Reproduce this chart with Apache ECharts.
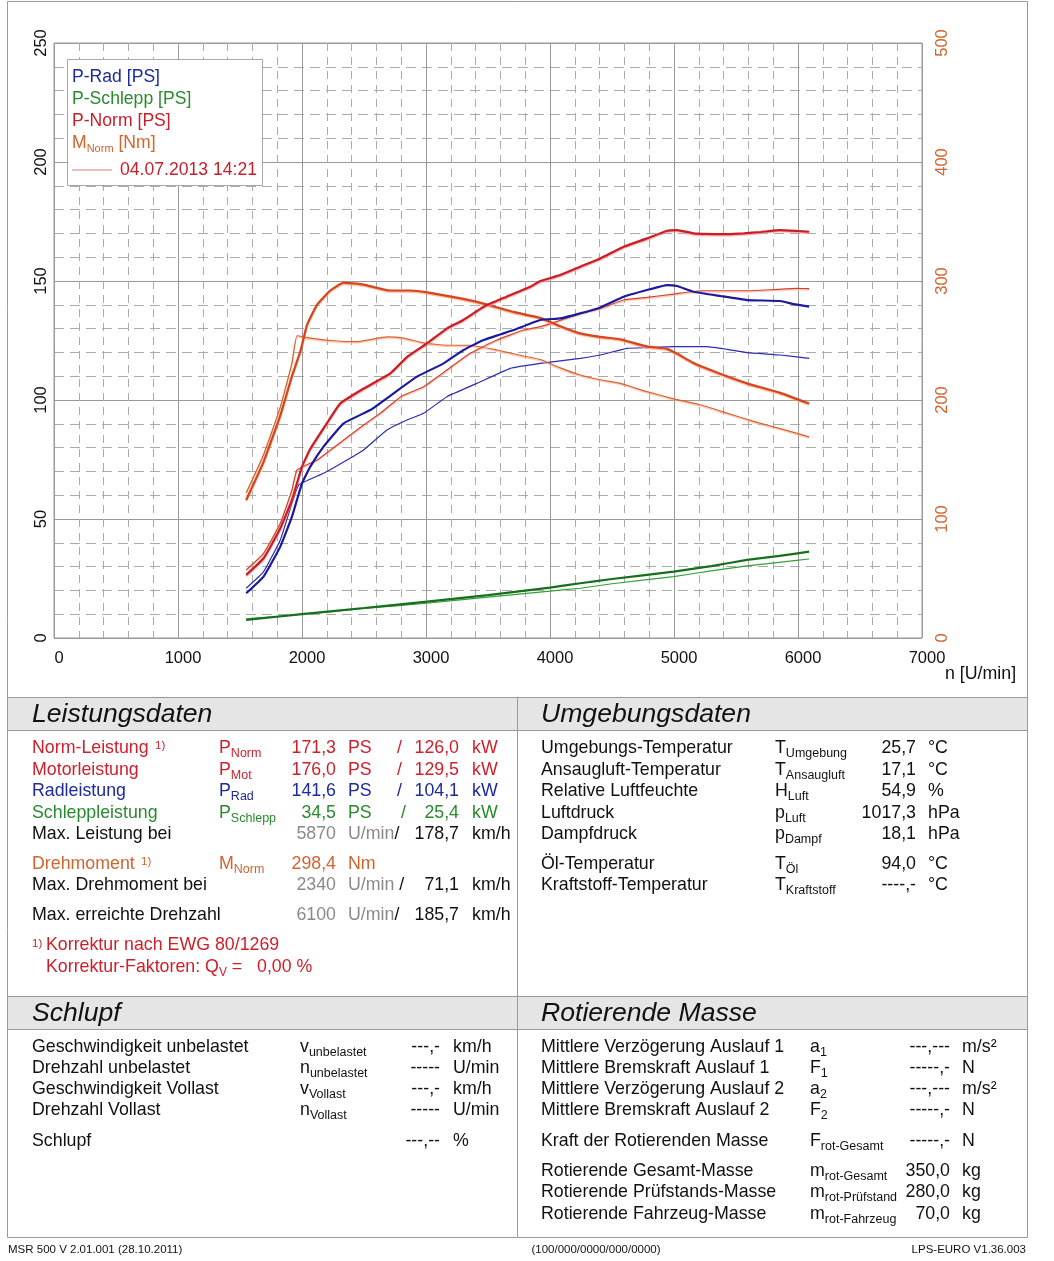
<!DOCTYPE html>
<html><head><meta charset="utf-8">
<script src="https://cdn.jsdelivr.net/npm/echarts@6/dist/echarts.min.js"></script>
<style>html,body{margin:0;padding:0;background:#fff}#c{width:1054px;height:1261px}</style>
</head><body><div id="c"></div>
<script>
// ---- data (rpm, value) ----
const xTicks = [0,1000,2000,3000,4000,5000,6000,7000];
const pNormThick = [[1550,26.5],[1690,33.5],[1825,46.1],[1919,58],[2000,72],[2067,79.5],[2200,90.2],[2309,98.6],[2500,104.9],[2712,111.2],[2850,118.2],[3008,123.8],[3170,130.1],[3300,133.6],[3465,139.2],[3650,143.4],[3840,147.6],[3922,150],[4083,152.5],[4244,156],[4406,159.5],[4594,164.4],[4782,167.9],[4944,171.1],[5024,171.4],[5158,170],[5427,169.7],[5561,170],[5700,170.6],[5857,171.4],[6000,171],[6090,170.7]];
const pNormThin = [[1550,28.6],[1690,35.6],[1825,48.2],[1919,62.2],[1960,70.6],[2121,74.8],[2336,83.2],[2497,89.5],[2631,94.4],[2800,101.5],[2981,105.6],[3169,112.6],[3357,119.6],[3573,125.2],[3787,129.4],[3922,130.8],[4100,133.8],[4244,136.4],[4406,138.5],[4594,142],[4782,143.1],[4997,144.5],[5212,145.9],[5589,145.9],[5800,146.4],[5992,146.9],[6090,146.8]];
const pRadThick = [[1550,18.8],[1690,25.8],[1825,38.4],[1919,51],[2000,65],[2067,72],[2174,80.4],[2336,90.2],[2551,95.8],[2739,102.8],[2927,109.8],[3142,115.4],[3303,121],[3465,125.2],[3706,129.4],[3922,133.6],[4083,134.3],[4244,136.4],[4406,138.9],[4594,143.4],[4782,146.2],[4944,148.3],[5024,147.9],[5158,145.5],[5373,143.7],[5589,142],[5857,141.6],[5965,140.3],[6090,139.2]];
const pRadThin = [[1550,20.9],[1690,27.9],[1825,41.2],[1919,56.6],[1973,64.3],[2174,69.2],[2363,74.8],[2497,79],[2685,87.4],[2847,91.6],[2981,94.4],[3169,101.4],[3411,107],[3680,113.3],[3922,115.4],[4244,117.5],[4406,118.9],[4620,121.7],[4782,122],[4997,122.4],[5266,122.4],[5427,121.3],[5589,119.9],[5857,118.9],[6090,117.5]];
const pSchleppThick = [[1550,7.6],[2000,10],[2500,12.6],[3008,15.3],[3500,18],[4000,21.2],[4244,23],[4500,24.8],[4997,27.9],[5300,30.2],[5589,32.8],[5850,34.5],[6090,36.3]];
const pSchleppThin = [[1550,8],[2000,10],[2500,12.4],[3008,14.6],[3500,17.2],[4000,19.7],[4244,20.9],[4500,22.8],[4997,25.8],[5300,28.2],[5589,30.3],[5850,31.8],[6090,33.2]];
const mNormThick = [[1550,116],[1690,148],[1825,187],[1919,220],[1990,242],[2040,263],[2121,280],[2228,292],[2336,298.6],[2497,297],[2712,292],[2873,292],[3035,290],[3303,285],[3465,281],[3706,274],[3922,269],[4083,262],[4244,256],[4406,253],[4567,251],[4782,245],[4944,243],[5024,239],[5158,231],[5373,222],[5589,214],[5857,206],[6090,197]];
const mNormThin = [[1550,122],[1690,154],[1825,194],[1919,231],[1960,254],[2067,252],[2228,250],[2443,249],[2685,253],[2820,252],[2981,248],[3169,246],[3357,246],[3573,242],[3787,237],[3922,234],[4083,227],[4244,221],[4406,217],[4567,214],[4782,207],[4997,201],[5212,196],[5427,189],[5642,182],[5857,176],[6090,169]];

const legendItems = ['P-Rad [PS]','P-Schlepp [PS]','P-Norm [PS]','M|Norm| [Nm]'];
const runLabel = '04.07.2013 14:21';

// table texts
const leist = [
 ['Norm-Leistung','1)','P','Norm','171,3','PS','/','126,0','kW','#cf1f2a',748],
 ['Motorleistung','','P','Mot','176,0','PS','/','129,5','kW','#cf1f2a',770],
 ['Radleistung','','P','Rad','141,6','PS','/','104,1','kW','#1c2a9e',791],
 ['Schleppleistung','','P','Schlepp','34,5','PS','/','25,4','kW','#2a8a2e',813]
];
const leistMax = [
 ['Max. Leistung bei','5870','U/min','/','178,7','km/h',834],
 ['Max. Drehmoment bei','2340','U/min ','/','71,1','km/h',885],
 ['Max. erreichte Drehzahl','6100','U/min','/','185,7','km/h',915]
];
const umg = [
 ['Umgebungs-Temperatur','T','Umgebung','25,7','°C',748],
 ['Ansaugluft-Temperatur','T','Ansaugluft','17,1','°C',770],
 ['Relative Luftfeuchte','H','Luft','54,9','%',791],
 ['Luftdruck','p','Luft','1017,3','hPa',813],
 ['Dampfdruck','p','Dampf','18,1','hPa',834],
 ['Öl-Temperatur','T','Öl','94,0','°C',864],
 ['Kraftstoff-Temperatur','T','Kraftstoff','----,-','°C',885]
];
const schlupf = [
 ['Geschwindigkeit unbelastet','v','unbelastet','---,-','km/h',1047],
 ['Drehzahl unbelastet','n','unbelastet','-----','U/min',1068],
 ['Geschwindigkeit Vollast','v','Vollast','---,-','km/h',1089],
 ['Drehzahl Vollast','n','Vollast','-----','U/min',1110],
 ['Schlupf','','','---,--','%',1141]
];
const rotMasse = [
 ['Mittlere Verzögerung Auslauf 1','a','1','---,---','m/s²',1047],
 ['Mittlere Bremskraft Auslauf 1','F','1','-----,-','N',1068],
 ['Mittlere Verzögerung Auslauf 2','a','2','---,---','m/s²',1089],
 ['Mittlere Bremskraft Auslauf 2','F','2','-----,-','N',1110],
 ['Kraft der Rotierenden Masse','F','rot-Gesamt','-----,-','N',1141],
 ['Rotierende Gesamt-Masse','m','rot-Gesamt','350,0','kg',1171],
 ['Rotierende Prüfstands-Masse','m','rot-Prüfstand','280,0','kg',1192],
 ['Rotierende Fahrzeug-Masse','m','rot-Fahrzeug','70,0','kg',1214]
];

const F = '"Liberation Sans", Arial, sans-serif';
const INK = '#111';
const GRAYV = '#8a8a8a';
const FS = 17.8;

function T(x, y, text, color, size, align, opt) {
  const st = {text: text, fill: color || INK, fontSize: size || FS, fontFamily: F,
    align: align || 'left', verticalAlign: 'middle', textAlign: align || 'left', textVerticalAlign: 'middle'};
  if (opt) Object.assign(st, opt);
  return {type: 'text', x: x, y: y, z: 100, silent: true, style: st};
}
function S(x, y, main, sub, color, size, subSize, pad) {
  size = size || FS; subSize = subSize || 12.5;
  return {type: 'text', x: x, y: y, z: 100, silent: true, style: {
    text: '{a|' + main + '}{b|' + sub + '}', verticalAlign: 'middle', textVerticalAlign: 'middle',
    align: 'left', textAlign: 'left',
    rich: {a: {fontSize: size, fontFamily: F, fill: color}, b: {fontSize: subSize, fontFamily: F, fill: color, padding: [pad || 12, 0, 0, 0]}}
  }};
}
const G = [];
// frames
G.push({type: 'rect', z: 1, silent: true, shape: {x: 7.5, y: 1.5, width: 1020, height: 1236}, style: {fill: 'none', stroke: '#9a9a9a', lineWidth: 1}});
G.push({type: 'rect', z: 2, silent: true, shape: {x: 7.5, y: 697.5, width: 1020, height: 33}, style: {fill: '#e5e5e5', stroke: '#9a9a9a', lineWidth: 1}});
G.push({type: 'rect', z: 2, silent: true, shape: {x: 7.5, y: 996.5, width: 1020, height: 33}, style: {fill: '#e5e5e5', stroke: '#9a9a9a', lineWidth: 1}});
G.push({type: 'line', z: 3, silent: true, shape: {x1: 517.5, y1: 697, x2: 517.5, y2: 1237}, style: {stroke: '#9a9a9a', lineWidth: 1}});
// headers
const HI = {fontStyle: 'italic'};
G.push(T(32, 715, 'Leistungsdaten', INK, 26.6, 'left', HI));
G.push(T(541, 715, 'Umgebungsdaten', INK, 26.6, 'left', HI));
G.push(T(32, 1014, 'Schlupf', INK, 26.6, 'left', HI));
G.push(T(541, 1014, 'Rotierende Masse', INK, 26.6, 'left', HI));
// Leistungsdaten rows
leist.forEach(function (r) {
  const c = r[9], y = r[10];
  G.push(T(32, y, r[0], c));
  if (r[1]) G.push(T(155, y - 2, r[1], c, 11.5));
  G.push(S(219, y, r[2], r[3], c));
  G.push(T(336, y, r[4], c, FS, 'right'));
  G.push(T(348, y, r[5], c));
  G.push(T(r[0] === 'Schleppleistung' ? 401 : 397, y, r[6], c));
  G.push(T(459, y, r[7], c, FS, 'right'));
  G.push(T(472, y, r[8], c));
});
leistMax.forEach(function (r) {
  const y = r[6];
  G.push(T(32, y, r[0], INK));
  G.push(T(336, y, r[1], GRAYV, FS, 'right'));
  G.push({type: 'text', x: 348, y: y, z: 100, silent: true, style: {text: '{g|' + r[2] + '}{k|' + r[3] + '}', verticalAlign: 'middle', textVerticalAlign: 'middle',
    rich: {g: {fontSize: FS, fontFamily: F, fill: GRAYV}, k: {fontSize: FS, fontFamily: F, fill: INK}}}});
  G.push(T(459, y, r[4], INK, FS, 'right'));
  G.push(T(472, y, r[5], INK));
});
const OR = '#d2642e';
G.push(T(32, 864, 'Drehmoment', OR));
G.push(T(141, 862, '1)', OR, 11.5));
G.push(S(219, 864, 'M', 'Norm', OR));
G.push(T(336, 864, '298,4', OR, FS, 'right'));
G.push(T(348, 864, 'Nm', OR));
const RD = '#cf1f2a';
G.push(T(32, 944, '1)', RD, 11.5));
G.push(T(46, 945, 'Korrektur nach EWG 80/1269', RD));
G.push({type: 'text', x: 46, y: 967, z: 100, silent: true, style: {text: '{a|Korrektur-Faktoren: Q}{b|V}{a| =}', verticalAlign: 'middle', textVerticalAlign: 'middle',
  rich: {a: {fontSize: FS, fontFamily: F, fill: RD}, b: {fontSize: 12, fontFamily: F, fill: RD, padding: [12, 0, 0, 0]}}}});
G.push(T(257, 967, '0,00 %', RD));
// Umgebungsdaten
umg.forEach(function (r) {
  G.push(T(541, r[5], r[0], INK));
  G.push(S(775, r[5], r[1], r[2], INK));
  G.push(T(916, r[5], r[3], INK, FS, 'right'));
  G.push(T(928, r[5], r[4], INK));
});
schlupf.forEach(function (r) {
  G.push(T(32, r[5], r[0], INK));
  if (r[1]) G.push(S(300, r[5], r[1], r[2], INK));
  G.push(T(440, r[5], r[3], INK, FS, 'right'));
  G.push(T(453, r[5], r[4], INK));
});
rotMasse.forEach(function (r) {
  G.push(T(541, r[5], r[0], INK));
  G.push(S(810, r[5], r[1], r[2], INK));
  G.push(T(950, r[5], r[3], INK, FS, 'right'));
  G.push(T(962, r[5], r[4], INK));
});
// footer
G.push(T(8, 1250, 'MSR 500 V 2.01.001 (28.10.2011)', INK, 11.5));
G.push(T(596, 1250, '(100/000/0000/000/0000)', INK, 11.5, 'center'));
G.push(T(1026, 1250, 'LPS-EURO V1.36.003', INK, 11.5, 'right'));
// axis name
G.push(T(945, 674, 'n [U/min]', INK, FS));
// legend box
const legColors = ['#1c2a9e', '#2a8a2e', '#c8202a', '#d2642e'];
G.push({type: 'rect', z: 90, silent: true, shape: {x: 67.5, y: 59.5, width: 195, height: 126}, style: {fill: '#fff', stroke: '#a8a8a8', lineWidth: 1}});
legendItems.forEach(function (s, i) {
  const y = 77 + i * 22;
  if (s.indexOf('|') >= 0) {
    const p = s.split('|');
    G.push({type: 'text', x: 72, y: y, z: 100, silent: true, style: {text: '{a|' + p[0] + '}{b|' + p[1] + '}{a|' + p[2] + '}', verticalAlign: 'middle', textVerticalAlign: 'middle',
      rich: {a: {fontSize: 17.6, fontFamily: F, fill: legColors[i]}, b: {fontSize: 11, fontFamily: F, fill: legColors[i], padding: [12, 0, 0, 0]}}}});
  } else {
    G.push(T(72, y, s, legColors[i], 17.6));
  }
});
G.push({type: 'line', z: 100, silent: true, shape: {x1: 72, y1: 170, x2: 112, y2: 170}, style: {stroke: '#e8a4a4', lineWidth: 1.5}});
G.push(T(120, 170, runLabel, '#c8202a', 17.6));

function ser(name, data, color, width, yIdx, z, halo) {
  const ls = {color: color, width: width};
  if (halo) { ls.shadowColor = halo; ls.shadowBlur = 1; ls.shadowOffsetY = 1.2; }
  return {name: name, type: 'line', data: data, yAxisIndex: yIdx, showSymbol: false, symbol: 'none', z: z, smooth: 0.12,
    lineStyle: ls, itemStyle: {color: color}, animation: false, silent: true};
}

const chart = echarts.init(document.getElementById('c'), null, {renderer: 'canvas'});
chart.setOption({
  backgroundColor: '#fff',
  animation: false,
  grid: {left: 54, top: 43, width: 868, height: 595, show: true, borderColor: '#9a9a9a', borderWidth: 1, backgroundColor: 'transparent'},
  xAxis: {type: 'value', min: 0, max: 7000, interval: 1000,
    axisLine: {show: false}, axisTick: {show: false},
    axisLabel: {fontSize: 16.5, color: INK, fontFamily: F, margin: 12, padding: [0, 0, 0, 10], formatter: function (v) { return xTicks.indexOf(v) >= 0 ? String(v) : ''; }},
    splitLine: {show: true, lineStyle: {color: '#9a9a9a', width: 1}},
    minorTick: {show: false, splitNumber: 5},
    minorSplitLine: {show: true, lineStyle: {color: '#ababab', width: 1, type: [8, 6]}}},
  yAxis: [
    {type: 'value', min: 0, max: 250, interval: 50, position: 'left',
      axisLine: {show: false}, axisTick: {show: false},
      axisLabel: {fontSize: 16.5, color: INK, fontFamily: F, rotate: 90, margin: 4},
      splitLine: {show: true, lineStyle: {color: '#9a9a9a', width: 1}},
      minorTick: {show: false, splitNumber: 5},
      minorSplitLine: {show: true, lineStyle: {color: '#ababab', width: 1, type: [10, 6]}}},
    {type: 'value', min: 0, max: 500, interval: 100, position: 'right',
      axisLine: {show: false}, axisTick: {show: false},
      axisLabel: {fontSize: 16.5, color: '#d2642e', fontFamily: F, rotate: 90, margin: 12},
      splitLine: {show: false}}
  ],
  series: [
    ser('P-Schlepp thin', pSchleppThin, '#35a03a', 1.2, 0, 2),
    ser('P-Schlepp [PS]', pSchleppThick, '#176f1e', 2.2, 0, 3),
    ser('P-Rad thin', pRadThin, '#2b2bb3', 1.2, 0, 2),
    ser('M-Norm thin', mNormThin, '#d9602c', 1.2, 1, 2, 'rgba(250,170,140,0.8)'),
    ser('P-Norm thin', pNormThin, '#d0432b', 1.2, 0, 2, 'rgba(250,170,150,0.8)'),
    ser('M-Norm [Nm]', mNormThick, '#d4461e', 2.2, 1, 3, 'rgba(250,160,130,0.8)'),
    ser('P-Rad [PS]', pRadThick, '#1a1a9e', 2.2, 0, 3),
    ser('P-Norm [PS]', pNormThick, '#c81e26', 2.2, 0, 3, 'rgba(250,150,150,0.8)')
  ],
  graphic: G
});
</script></body></html>
